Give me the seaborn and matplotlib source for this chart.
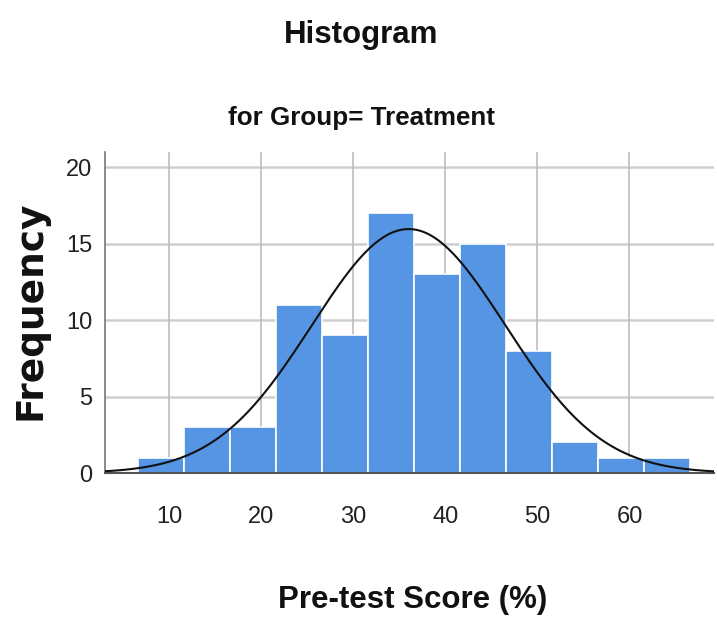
import numpy as np
import pandas as pd
import matplotlib
matplotlib.use("Agg")
import matplotlib.pyplot as plt
import seaborn as sns

# ---- data ----
bin_edges = [6.6, 11.6, 16.6, 21.6, 26.6, 31.6, 36.6, 41.6, 46.6, 51.6, 56.6, 61.6, 66.6]
bin_counts = [1, 3, 3, 11, 9, 17, 13, 15, 8, 2, 1, 1]
curve_mean = 36.0
curve_sd = 10.5
x_ticks = [10, 20, 30, 40, 50, 60]
y_ticks = [0, 5, 10, 15, 20]
title = "Histogram"
subtitle = "for Group= Treatment"
x_label = "Pre-test Score (%)"
y_label = "Frequency"

sns.set_theme(style="white")
plt.rcParams["font.family"] = ["Liberation Sans", "DejaVu Sans"]

mids = [(a + b) / 2 for a, b in zip(bin_edges[:-1], bin_edges[1:])]
df = pd.DataFrame({"score": mids, "count": bin_counts})

fig = plt.figure(figsize=(7.17, 6.28), dpi=100)
ax = fig.add_axes([0.1464, 0.2468, 0.8496, 0.5112])

ax.set_xlim(3.0, 69.2)
ax.set_ylim(0, 21)
ax.set_axisbelow(True)
for y in y_ticks:
    ax.axhline(y, color="#cfcfcf", lw=1.8, zorder=0)
for x in x_ticks:
    ax.axvline(x, color="#bdbdbd", lw=1.2, zorder=0)

sns.histplot(data=df, x="score", weights="count", bins=bin_edges, ax=ax,
             color="#5595e4", alpha=1.0, edgecolor="white", linewidth=1.2, zorder=2)

n = sum(bin_counts)
width = bin_edges[1] - bin_edges[0]
xs = np.linspace(3.0, 69.2, 400)
ys = n * width / (curve_sd * np.sqrt(2 * np.pi)) * np.exp(-0.5 * ((xs - curve_mean) / curve_sd) ** 2)
sns.lineplot(x=xs, y=ys, ax=ax, color="#111111", lw=1.5, zorder=3)

ax.set_xticks(x_ticks)
ax.set_yticks(y_ticks)
ax.tick_params(axis="x", length=0, pad=24, labelsize=17, colors="#222222")
ax.tick_params(axis="y", length=0, pad=9, labelsize=17, colors="#222222")
for s in ["top", "right"]:
    ax.spines[s].set_visible(False)
ax.spines["left"].set_color("#777777")
ax.spines["bottom"].set_color("#555555")
ax.spines["left"].set_linewidth(1.2)
ax.spines["bottom"].set_linewidth(1.5)
ax.set_xlabel("")
ax.set_ylabel("")

fig.text(0.504, 0.944, title, ha="center", va="center", fontsize=22.5, fontweight="bold", color="#111111")
fig.text(0.504, 0.812, subtitle, ha="center", va="center", fontsize=18.7, fontweight="bold", color="#111111")
fig.text(0.576, 0.044, x_label, ha="center", va="center", fontsize=22.5, fontweight="bold", color="#111111")
fig.text(0.042, 0.506, y_label, ha="center", va="center", rotation=90, fontsize=27,
         fontweight="bold", color="#111111", family=["DejaVu Sans"])

fig.savefig("out.png", dpi=100)
